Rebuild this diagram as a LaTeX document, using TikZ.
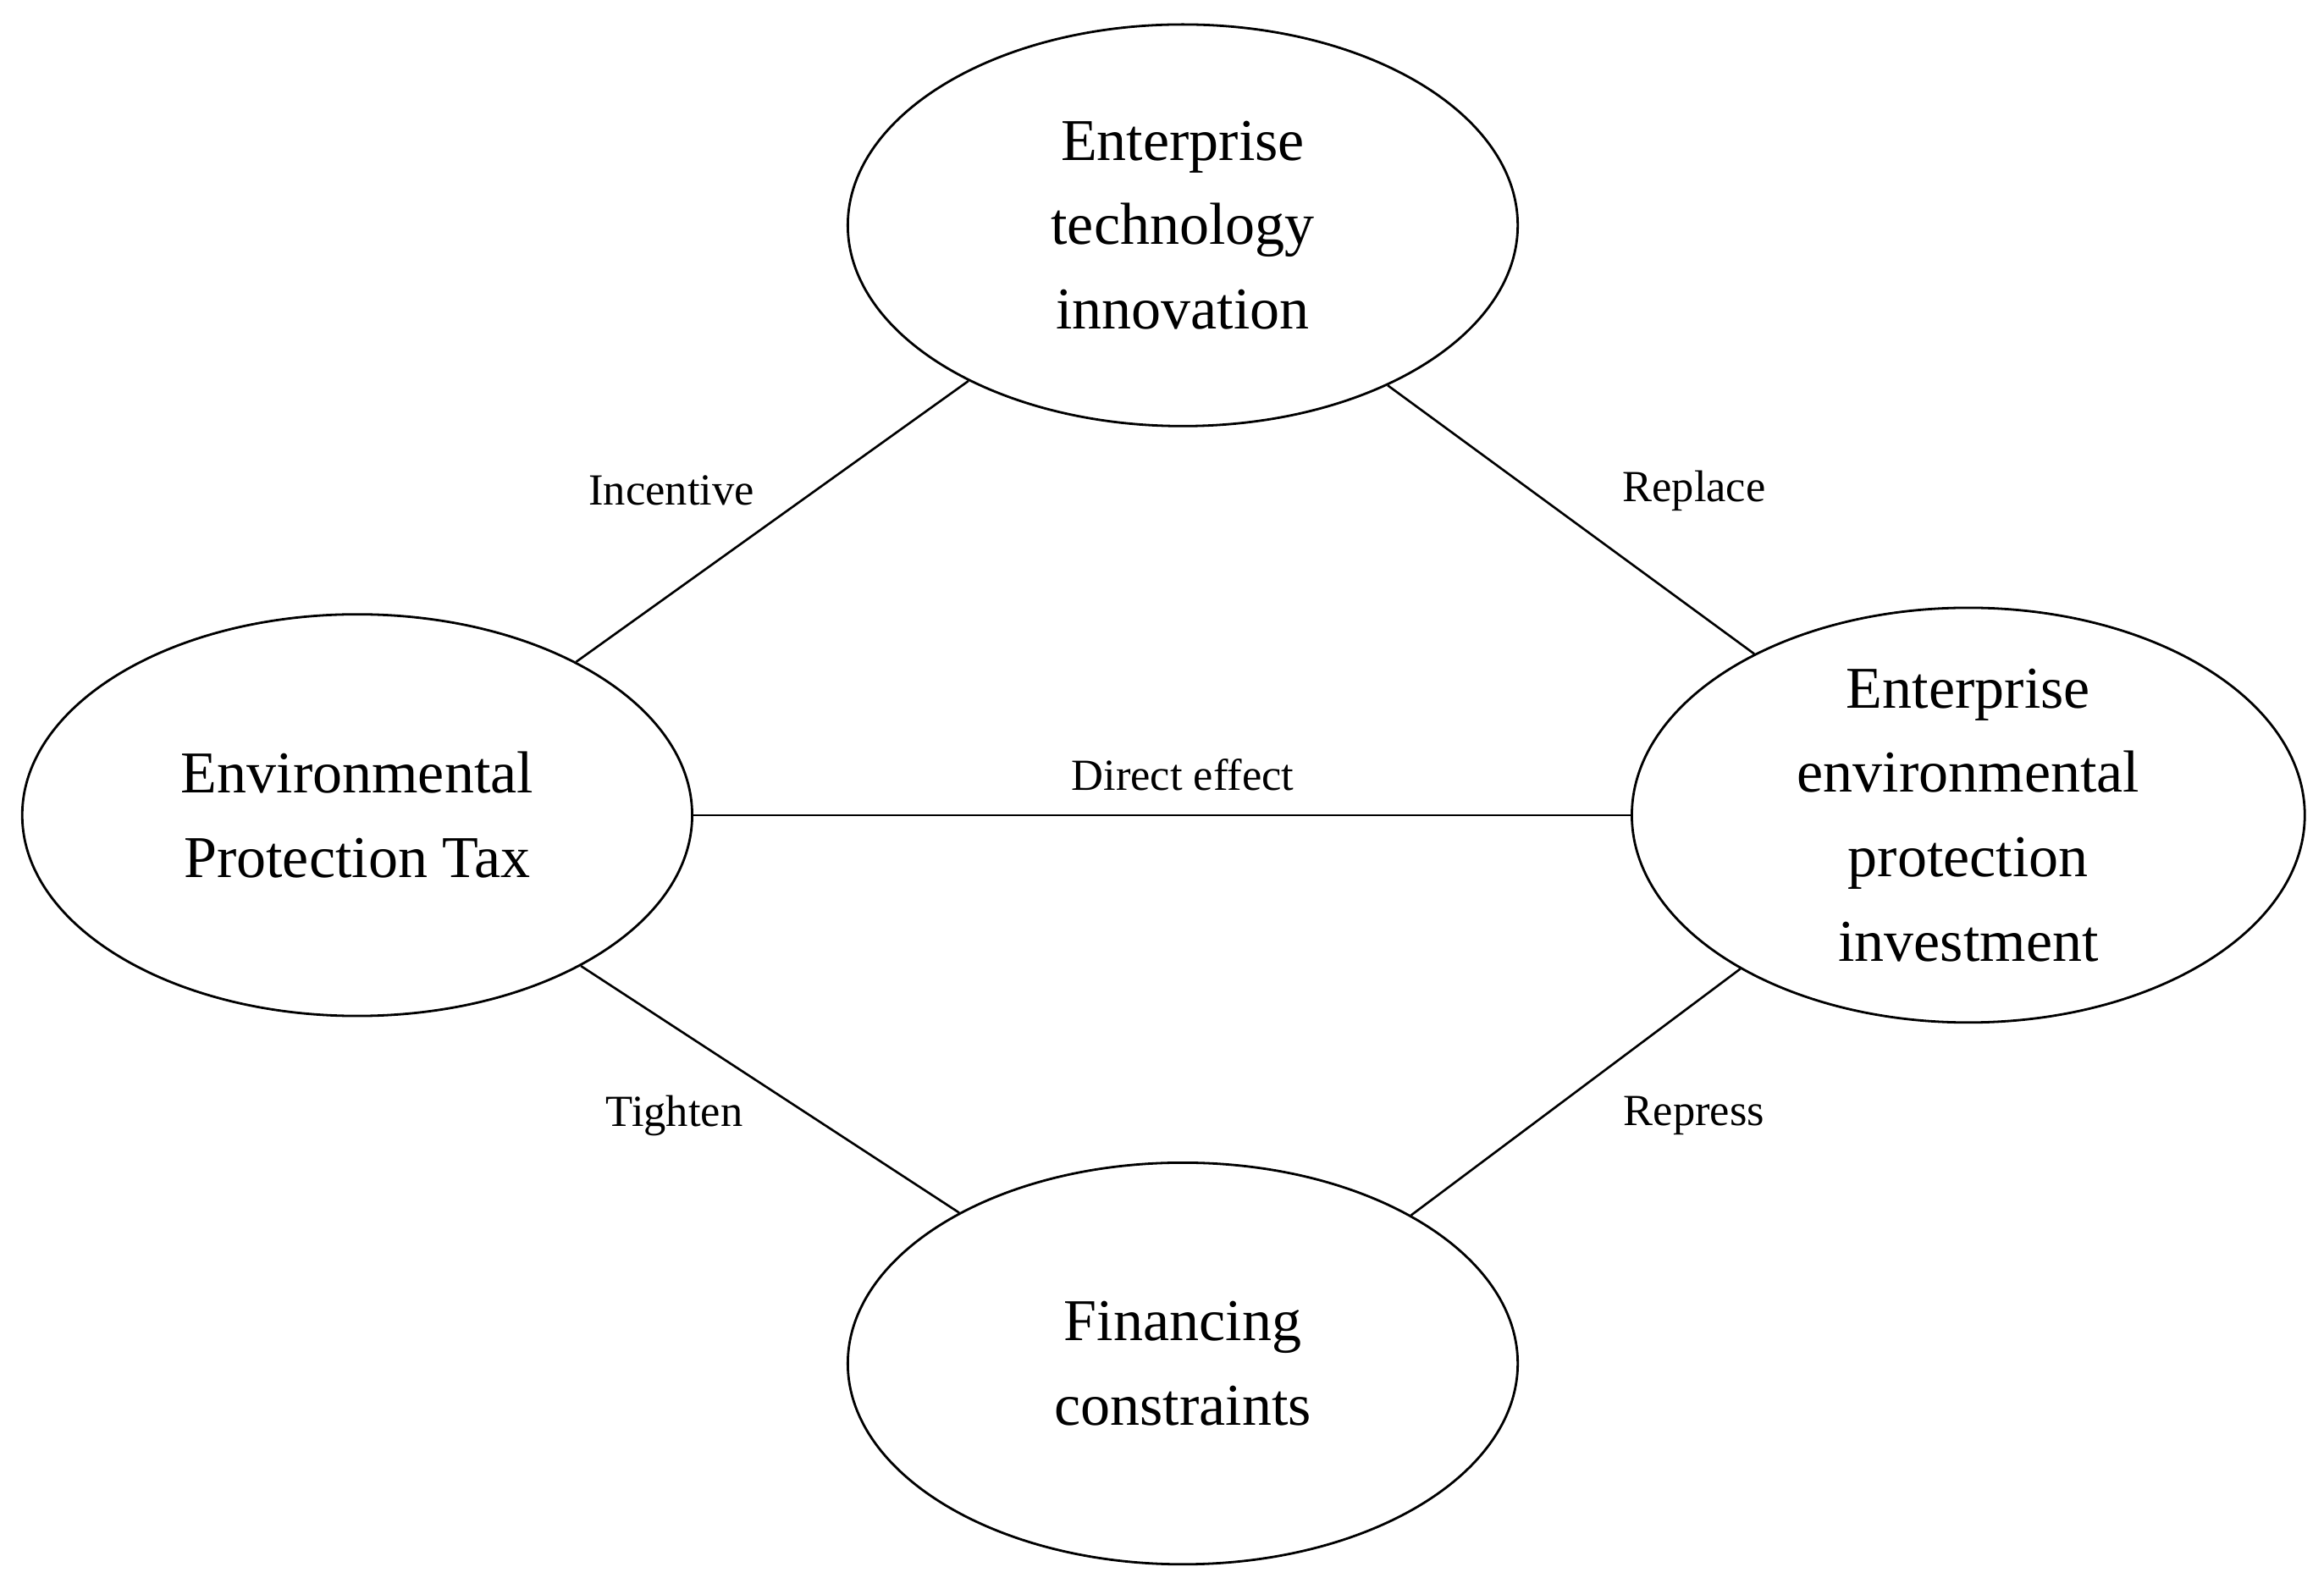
\documentclass[tikz,border=0pt]{standalone}
\usepackage{fontspec}
\setmainfont{Liberation Serif}
\usetikzlibrary{shapes.geometric}
\begin{document}
\begin{tikzpicture}[x=1pt,y=-1pt,
  ell/.style={ellipse,draw,line width=1.6pt,minimum width=452pt,minimum height=271pt,inner sep=0pt,align=center,font=\fontsize{40}{57}\selectfont},
  lab/.style={font=\fontsize{30}{36}\selectfont},
  conn/.style={line width=1.5pt}]
\fill[white] (0,0) rectangle (1568,1072);
\useasboundingbox (0,0) rectangle (1568,1072);
\node[ell] (t) at (798,152) {Enterprise\\technology\\innovation};
\node[ell] (l) at (241,550) {Environmental\\Protection Tax};
\node[ell,minimum width=454pt] (r) at (1328,550) {Enterprise\\environmental\\protection\\investment};
\node[ell] (b) at (798,920) {Financing\\constraints};
\draw[conn] (t.216.5) -- (l.35.3);
\draw[conn] (t.322.9) -- (r.143.1);
\draw[conn] (l.east) -- (r.west);
\draw[conn] (l.326.7) -- (b.146.5);
\draw[conn] (r.214.9) -- (b.33.7);
\node[lab] (li) at (453,331) {Incentive};
\node[lab] (lr) at (1143,331) {Replace};
\node[lab] (ld) at (798,523) {Direct effect};
\node[lab] (lt) at (455,753) {Tighten};
\node[lab] (lp) at (1143,753) {Repress};
\end{tikzpicture}
\end{document}
